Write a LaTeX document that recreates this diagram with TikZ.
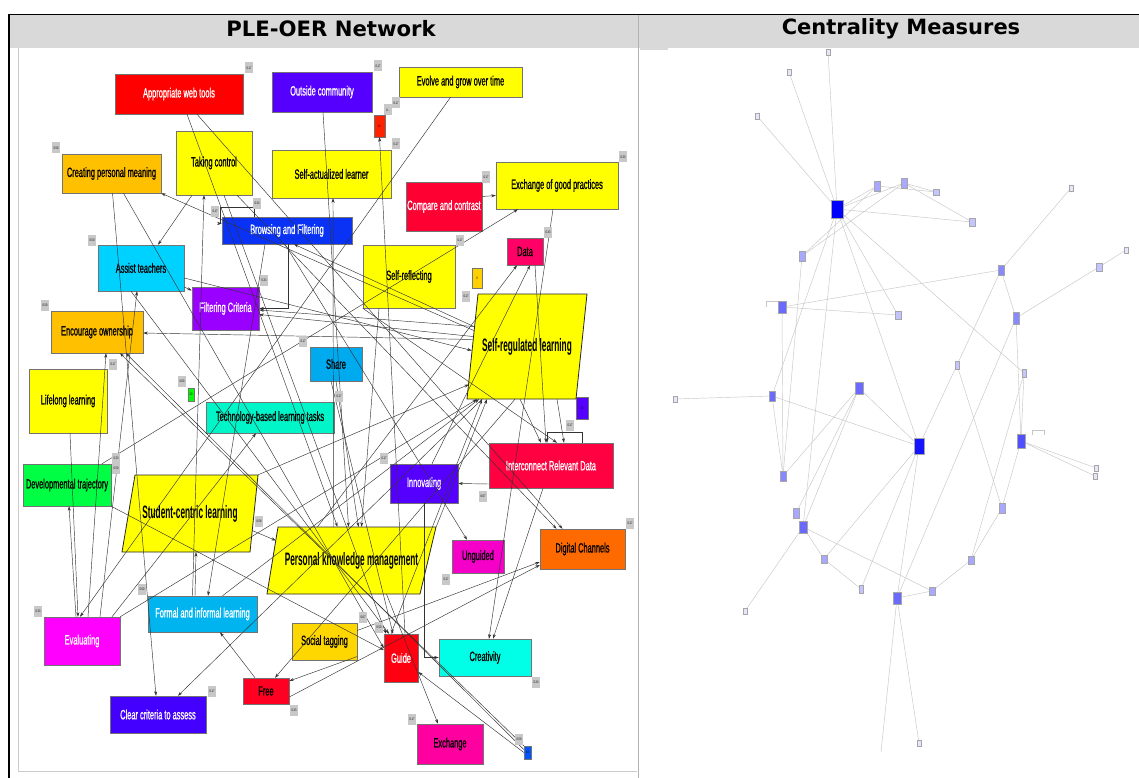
\documentclass[tikz,border=0pt]{standalone}
\usepackage{fontspec}
\usetikzlibrary{arrows.meta}
\newfontfamily\nf{Liberation Sans}[FakeStretch=0.55,FakeBold=0.8]
\newfontfamily\tf{Liberation Sans}[FakeStretch=0.7]
\newfontfamily\bigf{Liberation Sans}[FakeStretch=0.46]
\newfontfamily\hf{DejaVu Sans}
\definecolor{headgray}{HTML}{D9D9D9}
\definecolor{cYel}{HTML}{FFFF00}
\definecolor{cRed}{HTML}{FF0000}
\definecolor{cViolet}{HTML}{5500FF}
\definecolor{cOrange}{HTML}{FFC000}
\definecolor{cCompare}{HTML}{FF0033}
\definecolor{cBrowse}{HTML}{0A32F5}
\definecolor{cAssist}{HTML}{00D2FF}
\definecolor{cData}{HTML}{FF0066}
\definecolor{cFilter}{HTML}{9900FF}
\definecolor{cShare}{HTML}{00AAEE}
\definecolor{cTech}{HTML}{00F5C8}
\definecolor{cIRD}{HTML}{FF0040}
\definecolor{cDT}{HTML}{00FF44}
\definecolor{cUng}{HTML}{F500C8}
\definecolor{cDC}{HTML}{FF6A00}
\definecolor{cEval}{HTML}{FF00FF}
\definecolor{cFIL}{HTML}{00B4F0}
\definecolor{cST}{HTML}{FFD700}
\definecolor{cGuide}{HTML}{FF0010}
\definecolor{cCre}{HTML}{00FFE6}
\definecolor{cFree}{HTML}{FF0022}
\definecolor{cCCA}{HTML}{4400FF}
\definecolor{cExch}{HTML}{FF00A0}
\definecolor{cBlue}{HTML}{0055FF}
\definecolor{cSmRed}{HTML}{FF2200}
\definecolor{cSmYel}{HTML}{FFD000}
\definecolor{cGreen}{HTML}{00FF00}
\definecolor{tagg}{HTML}{C8C8C8}
\definecolor{rA}{HTML}{0000FF}
\definecolor{rB}{HTML}{1414FF}
\definecolor{rC}{HTML}{5050FF}
\definecolor{rD}{HTML}{6A6AFF}
\definecolor{rE}{HTML}{8888FF}
\definecolor{rF}{HTML}{A8A8FF}
\definecolor{rG}{HTML}{C4C4FF}
\definecolor{rH}{HTML}{E6E6FA}
\tikzset{
  box/.style={draw=black!55, line width=0.5pt, inner sep=1pt, align=center,
    font=\nf\fontsize{13.5}{14}\selectfont},
  txt/.style={inner sep=0pt, font=\bigf\bfseries\fontsize{18}{20}\selectfont},
  tiny/.style={draw=black!55, line width=0.4pt, inner sep=0pt, font=\tf\fontsize{3.5}{4}\selectfont},
  tag/.style={fill=tagg, inner sep=0pt, minimum width=8, minimum height=11, font=\tf\fontsize{3.6}{4}\selectfont},
  e/.style={draw=black!80, line width=0.45pt, -{Stealth[length=4.5pt,width=3pt]}},
  rnb/.style={draw=black!35, line width=0.3pt, inner sep=0pt},
  re/.style={draw=black!22, line width=0.45pt},
  para/.style={fill=cYel, draw=black!85, line width=0.8pt}
}
\newcommand\myrn[6]{\node[rnb, fill=#6, minimum width=#4, minimum height=#5] (#1) at (#2,#3) {};}
\begin{document}
\begin{tikzpicture}[x=1pt,y=-1pt]
\useasboundingbox (0,0) rectangle (1139,778);
\fill[white] (0,0) rectangle (1139,778);
% header and frame
\fill[headgray] (9,15) rectangle (1139,48);
\fill[white] (18,48) rectangle (637,771);
\draw[black!20, line width=0.6pt] (18,48) -- (18,771) -- (637,771);
\draw[black!30, line width=0.6pt] (638.5,15) -- (638.5,778);
\fill[headgray] (640,48) rectangle (668,50);
\draw[black, line width=1.3pt] (9,778) -- (9,14.5) -- (1139,14.5);
\node[font=\hf\bfseries\fontsize{21.2}{24}\selectfont] (h1) at (331,29) {PLE-OER Network};
\node[font=\hf\bfseries\fontsize{21}{24}\selectfont] (h2) at (901,29) {Centrality Measures};

% ---------- left panel nodes ----------
\node[box, fill=cRed, text=white, minimum width=128, minimum height=40] (awt) at (179,94) {Appropriate web tools};
\node[box, fill=cViolet, text=white, minimum width=100, minimum height=40] (oc) at (322,92) {Outside community};
\node[box, fill=cYel, minimum width=123, minimum height=30] (evolve) at (460.5,82) {Evolve and grow over time};
\node[tiny, fill=cSmRed, minimum width=11, minimum height=22] (b11) at (379.5,126) {11};
\node[box, fill=cOrange, minimum width=99, minimum height=39] (cpm) at (111.5,173.5) {Creating personal meaning};
\node[box, fill=cYel, minimum width=76, minimum height=64] (tc) at (214,163) {Taking control};
\node[box, fill=cYel, minimum width=119, minimum height=48] (sal) at (331.5,174) {Self-actualized learner};
\node[box, fill=cCompare, text=white, minimum width=76, minimum height=49] (cc) at (444,206.5) {Compare and contrast};
\node[box, fill=cYel, minimum width=122, minimum height=47] (egp) at (557,185.5) {Exchange of good practices};
\node[box, fill=cBrowse, text=white, minimum width=130, minimum height=27] (bf) at (287,230.5) {Browsing and Filtering};
\node[box, fill=cAssist, minimum width=86, minimum height=46] (at) at (141,268) {Assist teachers};
\node[box, fill=cYel, minimum width=92, minimum height=63] (sr) at (409,276.5) {Self-reflecting};
\node[box, fill=cData, minimum width=36, minimum height=27] (data) at (525,251.5) {Data};
\node[tiny, fill=cSmYel, minimum width=10, minimum height=20] (b9) at (477,278) {9};
\node[box, fill=cFilter, text=white, minimum width=67, minimum height=43] (fc) at (225.5,308.5) {Filtering Criteria};
\node[box, fill=cOrange, minimum width=92, minimum height=42] (eo) at (97,332) {Encourage ownership};
\node[box, fill=cShare, minimum width=52, minimum height=34] (share) at (336,364) {Share};
\node[tiny, fill=cGreen, minimum width=6, minimum height=13] (bgreen) at (191,394.5) {30};
\node[box, fill=cYel, minimum width=78, minimum height=64] (ll) at (68,401) {Lifelong learning};
\node[box, fill=cTech, minimum width=128, minimum height=31] (tbl) at (270,417.5) {Technology-based learning tasks};
\node[tiny, fill=cViolet, minimum width=12, minimum height=22] (b22) at (582,408) {28};
\node[box, fill=cIRD, text=white, minimum width=124, minimum height=45] (ird) at (551,465.5) {Interconnect Relevant Data};
\node[box, fill=cViolet, text=white, minimum width=68, minimum height=39] (innov) at (424,483.5) {Innovating};
\node[box, fill=cDT, minimum width=88, minimum height=42] (dt) at (67,485) {Developmental trajectory};
\node[box, fill=cUng, minimum width=52, minimum height=33] (ung) at (478,556.5) {Unguided};
\node[box, fill=cDC, minimum width=85, minimum height=40] (dc) at (582.5,549) {Digital Channels};
\node[box, fill=cEval, text=white, minimum width=76, minimum height=48] (eval) at (82,641) {Evaluating};
\node[box, fill=cFIL, text=white, minimum width=109, minimum height=36] (fil) at (202.5,614) {Formal and informal learning};
\node[box, fill=cST, minimum width=65, minimum height=37] (st) at (324.5,641.5) {Social tagging};
\node[box, fill=cGuide, text=white, minimum width=34, minimum height=48] (guide) at (401,658) {Guide};
\node[box, fill=cCre, minimum width=92, minimum height=37] (cre) at (485,657.5) {Creativity};
\node[box, fill=cFree, minimum width=46, minimum height=26] (free) at (266,691) {Free};
\node[box, fill=cCCA, text=white, minimum width=96, minimum height=37] (cca) at (158,714.5) {Clear criteria to assess};
\node[box, fill=cExch, minimum width=66, minimum height=40] (exch) at (450,744) {Exchange};
\node[tiny, fill=cBlue, minimum width=7, minimum height=13] (bblue) at (527.5,752.5) {10};

% parallelograms
\draw[para] (478,294) -- (587,294) -- (576,399) -- (467,399) -- cycle;
\node[txt, minimum width=120, minimum height=105] (srl) at (527,346.5) {Self-regulated learning};
\draw[para] (135,475) -- (258,475) -- (250,552) -- (122,552) -- cycle;
\node[txt, minimum width=136, minimum height=77] (scl) at (190,513.5) {Student-centric learning};
\draw[para] (278,527) -- (436,527) -- (420,594) -- (267,594) -- cycle;
\node[txt, minimum width=169, minimum height=67] (pkm) at (351.5,560.5) {Personal knowledge management};

% ---------- left panel connectors ----------
\draw[e] ([xshift=8]awt.south) -- ([xshift=-14]pkm.north);
\draw[e] ([xshift=18]awt.south) -- ([xshift=-20]dc.north);
\draw[e] ([xshift=1]oc.south) -- ([xshift=-3]pkm.north);
\draw[e] ([xshift=4]guide.north) -- (b11.south);
\draw[e] ([xshift=-10]evolve.south) -- ([xshift=-2]eval.north);
\draw[e] ([xshift=7,yshift=16]srl.west) -- (cpm.south east);
\draw[e] ([xshift=-22]tc.south) -- ([xshift=17]at.north);
\draw[e] ([xshift=23]tc.south) -- ([xshift=-26]dc.north);
\draw[e] ([xshift=1]cpm.south) -- ([xshift=-2]cca.north);
\draw[e] ([xshift=12]cpm.south) -- ([yshift=10]guide.west);
\draw[e] ([xshift=-33]bf.north) -- ++(0,-10) -- ++(-34,0) |- ([yshift=7]bf.west);
\draw[e] ([yshift=-19]at.east) -- ([yshift=18]fc.west);
\draw[e] ([yshift=-10]at.east) -- ([xshift=5,yshift=-4]srl.west);
\draw[e] ([xshift=7,yshift=20]srl.west) -- ([yshift=-1.5]fc.east);
\draw[e] ([xshift=6,yshift=10]srl.west) -- ([yshift=-6]fc.east);
\draw[e] ([xshift=6,yshift=7]srl.west) -- ([yshift=-1]eo.east);
\draw[e] (bblue.north west) -- ([xshift=23]eo.south);
\draw[e] ([yshift=3]bblue.west) -- ([xshift=29]eo.south);
\draw[e] (bblue.west) -- ([yshift=-14]guide.east);
\draw[e] ([xshift=2]ll.south) -- ([xshift=-4]eval.north);
\draw[e] ([xshift=-6]eval.north) -- ([xshift=2]dt.south);
\draw[e] ([xshift=6]eval.north) -- ([xshift=9]eo.south);
\draw[e] ([xshift=18]eval.north) -- ([xshift=-4]at.south);
\draw[e] (eval.north east) -- ([xshift=-50]srl.south);
\draw[e] ([xshift=-6,yshift=-17]scl.east) -- ([xshift=9,yshift=20]pkm.west);
\draw[e] ([xshift=30]eval.north) -- ([xshift=-14]tbl.south);
\draw[e] ([xshift=35]dt.north) -- ([xshift=-39]egp.south);
\draw[e] (dt.south east) -- ([yshift=8]guide.west);
\draw[e] ([xshift=-7.5]fil.north) -- ([xshift=6]scl.south);
\draw[e] ([xshift=-22]bf.south) -- ([xshift=5.5]fil.north);
\draw[e] ([xshift=-11]free.north) -- ([xshift=17.5]fil.south);
\draw[e] ([yshift=-15]st.east) -- ([yshift=10]free.east);
\draw[e] ([xshift=-12]srl.south) -- ([xshift=9]free.north);
\draw[e] ([xshift=-45]srl.south) -- ([xshift=20]cca.north);
\draw[e] ([xshift=-2]bf.south) -- ([xshift=-11]ung.north);
\draw[e] ([yshift=-18.5]ird.west) -- (innov.east);
\draw[e] (innov.south) |- (cre.west);
\draw[e] ([xshift=-8]ird.south) -- ([xshift=8]cre.north);
\draw[e] ([xshift=-4]egp.south) -- ([xshift=4]cre.north);
\draw[e] ([yshift=11]st.east) -- ([yshift=-13]dc.west);
\draw[e] ([yshift=-6]free.east) -- ([yshift=-16]dc.west);
\draw[e] ([xshift=35]pkm.south) -- ([xshift=-12]exch.north);
\draw[e] ([yshift=10]cc.east) -- ([yshift=-10]egp.west);
\draw[e] ([xshift=-34]pkm.north) -- ([xshift=-8]data.south);
\draw[e] ([xshift=8]innov.north) -- ([xshift=5]data.south);
\draw[e] ([xshift=10]data.south) -- ([xshift=-5]ird.north);
\draw[e] ([xshift=-7]srl.south) -- ([xshift=-10]ird.north);
\draw[e] (sr.south west) -- ([xshift=6]ird.north);
\draw[e] ([xshift=30]srl.south) -- ([xshift=13]ird.north);
\draw[e] ([xshift=31]ird.north) -- ++(0,-11) -| ([xshift=-4]ird.north);
\draw[e] ([xshift=1]bf.south) |- (fc.east);
\draw[e] (share.south) -- ([xshift=7]pkm.north);
\draw[e] ([xshift=-18]pkm.north) -- ([xshift=1.5]sal.south);
\draw[e] ([xshift=-30]sr.south) -- ([xshift=10]pkm.north);
\draw[e] (scl.north east) -- ([xshift=2,yshift=-38]srl.west);
\draw[e] ([xshift=20]fil.north) -- ([xshift=-48]srl.south);
\draw[e] ([xshift=-10]guide.north) -- ([xshift=-45]srl.south);
\draw[e] (pkm.north east) -- ([xshift=-40]srl.south);
\draw[e] ([xshift=-10]at.south) -- ([xshift=-12]guide.north);
\draw[e] ([xshift=-10]fil.north) -- ([xshift=-10]tc.south);
\draw[e] ([xshift=10]tc.south) -- ([xshift=-15]guide.north);
\draw[e] ([xshift=-5]share.south) -- ([xshift=-8]guide.north);
\draw[e] ([xshift=7,yshift=20]srl.west) -- ([xshift=7]bf.south);

% ---------- value tags ----------
\node[tag] (t1) at (249,68) {0.17};
\node[tag] (t2) at (378,66) {0.17};
\node[tag] (t3) at (388,110) {0...};
\node[tag] (t4) at (396,103) {0.17};
\node[tag] (t5) at (396,144) {0.17};
\node[tag] (t6) at (56,148) {0.58};
\node[tag] (t7) at (486,177) {0.17};
\node[tag] (t8) at (623,157) {0.33};
\node[tag] (t9) at (215,211) {0.17};
\node[tag] (t10) at (257,203) {0.33};
\node[tag] (t11) at (92,240) {0.50};
\node[tag] (t12) at (460,240) {0.17};
\node[tag] (t13) at (548,232) {0.33};
\node[tag] (t14) at (264,280) {0.33};
\node[tag] (t15) at (466,296) {0.17};
\node[tag] (t16) at (45,305) {0.50};
\node[tag] (t17) at (113,364) {0.17};
\node[tag] (t18) at (303,341) {0.17};
\node[tag] (t19) at (182,381) {0.00};
\node[tag] (t20) at (339,396) {0.17};
\node[tag] (t21) at (570,425) {0.17};
\node[tag] (t22) at (384,458) {0.17};
\node[tag] (t23) at (116,458) {0.33};
\node[tag] (t24) at (116,468) {0.50};
\node[tag] (t25) at (483,496) {0.67};
\node[tag] (t26) at (259,521) {0.58};
\node[tag] (t27) at (630,523) {0.17};
\node[tag] (t28) at (446,579) {0.17};
\node[tag] (t29) at (38,611) {0.33};
\node[tag] (t30) at (142,589) {0.50};
\node[tag] (t31) at (363,617) {0.67};
\node[tag] (t32) at (379,627) {0.50};
\node[tag] (t33) at (536,682) {0.33};
\node[tag] (t34) at (294,710) {0.33};
\node[tag] (t35) at (212,691) {0.17};
\node[tag] (t36) at (412,719) {0.17};
\node[tag] (t37) at (519,739) {0.50};

% ---------- right panel ----------
\myrn{r1}{828}{52}{4}{6}{rH}
\myrn{r2}{789}{72}{4}{6}{rH}
\myrn{r3}{757}{116}{4}{6}{rH}
\myrn{r4}{837}{209}{11}{18}{rA}
\myrn{r5}{877}{186}{5}{9}{rF}
\myrn{r6}{904}{183}{5}{9}{rF}
\myrn{r7}{936}{192}{5}{6}{rG}
\myrn{r8}{972}{222}{5}{7}{rG}
\myrn{r9}{802}{256}{5}{9}{rF}
\myrn{r10}{1071}{188}{4}{6}{rH}
\myrn{r11}{1001}{270}{6}{10}{rE}
\myrn{r12}{1126}{250}{4}{6}{rH}
\myrn{r13}{1099}{267}{5}{7}{rG}
\myrn{r14}{782}{307}{7}{12}{rD}
\myrn{r15}{898}{315}{5}{7}{rG}
\myrn{r16}{1016}{318}{6}{11}{rE}
\myrn{r17}{957}{365}{4}{7}{rG}
\myrn{r18}{1024}{373}{4}{7}{rG}
\myrn{r19}{859}{388}{7}{12}{rD}
\myrn{r20}{772}{396}{6}{10}{rD}
\myrn{r21}{675}{399}{4}{5}{rH}
\myrn{r22}{919}{446}{9}{16}{rB}
\myrn{r23}{1021}{441}{7}{13}{rC}
\myrn{r24}{1096}{468}{3}{5}{rH}
\myrn{r25}{1095}{476}{3}{5}{rH}
\myrn{r26}{783}{476}{6}{10}{rE}
\myrn{r27}{796}{513}{5}{9}{rF}
\myrn{r28}{803}{527}{7}{12}{rD}
\myrn{r29}{1002}{508}{5}{9}{rF}
\myrn{r30}{824}{559}{6}{8}{rF}
\myrn{r31}{971}{560}{5}{8}{rF}
\myrn{r32}{861}{589}{4}{7}{rG}
\myrn{r33}{932}{591}{6}{8}{rF}
\myrn{r34}{897}{598}{7}{12}{rD}
\myrn{r35}{745}{611}{3}{5}{rH}
\myrn{r36}{919}{743}{3}{5}{rH}
\coordinate (rfree) at (881,752);

\foreach \a/\b in {r4/r1,r4/r2,r4/r3,r4/r5,r4/r6,r5/r7,r6/r7,r6/r8,r4/r8,r5/r9,r6/r9,
  r4/r15,r4/r18,r4/r22,r4/r20,r4/r28,r9/r26,r14/r11,r14/r15,r14/r26,r11/r10,r11/r17,r11/r16,
  r16/r13,r13/r12,r16/r23,r17/r22,r16/r34,r17/r29,r23/r29,r23/r24,r23/r25,r23/r18,r18/r31,
  r31/r29,r31/r33,r33/r34,r28/r33,r28/r30,r30/r32,r30/r22,r32/r22,r34/r22,r34/r36,r34/rfree,
  r28/r35,r28/r19,r27/r19,r26/r19,r20/r26,r20/r22,r19/r22,r20/r21}
  {\draw[re] (\a) -- (\b);}
\draw[re] ([xshift=-12]r14.west) -- ++(0,-6) -- ++(13,0) -- ++(0,3);
\draw[re] ([xshift=8,yshift=6]r23.east) -- ++(0,-5) -- ++(12,0) -- ++(0,5);
% redraw right nodes on top of edges
\foreach \n/\c in {r1/rH,r2/rH,r3/rH,r4/rA,r5/rF,r6/rF,r7/rG,r8/rG,r9/rF,r10/rH,r11/rE,r12/rH,r13/rG,
  r14/rD,r15/rG,r16/rE,r17/rG,r18/rG,r19/rD,r20/rD,r21/rH,r22/rB,r23/rC,r24/rH,r25/rH,r26/rE,
  r27/rF,r28/rD,r29/rF,r30/rF,r31/rF,r32/rG,r33/rF,r34/rD,r35/rH,r36/rH}
  {\draw[rnb, fill=\c] (\n.north west) rectangle (\n.south east);}
\end{tikzpicture}
\end{document}
